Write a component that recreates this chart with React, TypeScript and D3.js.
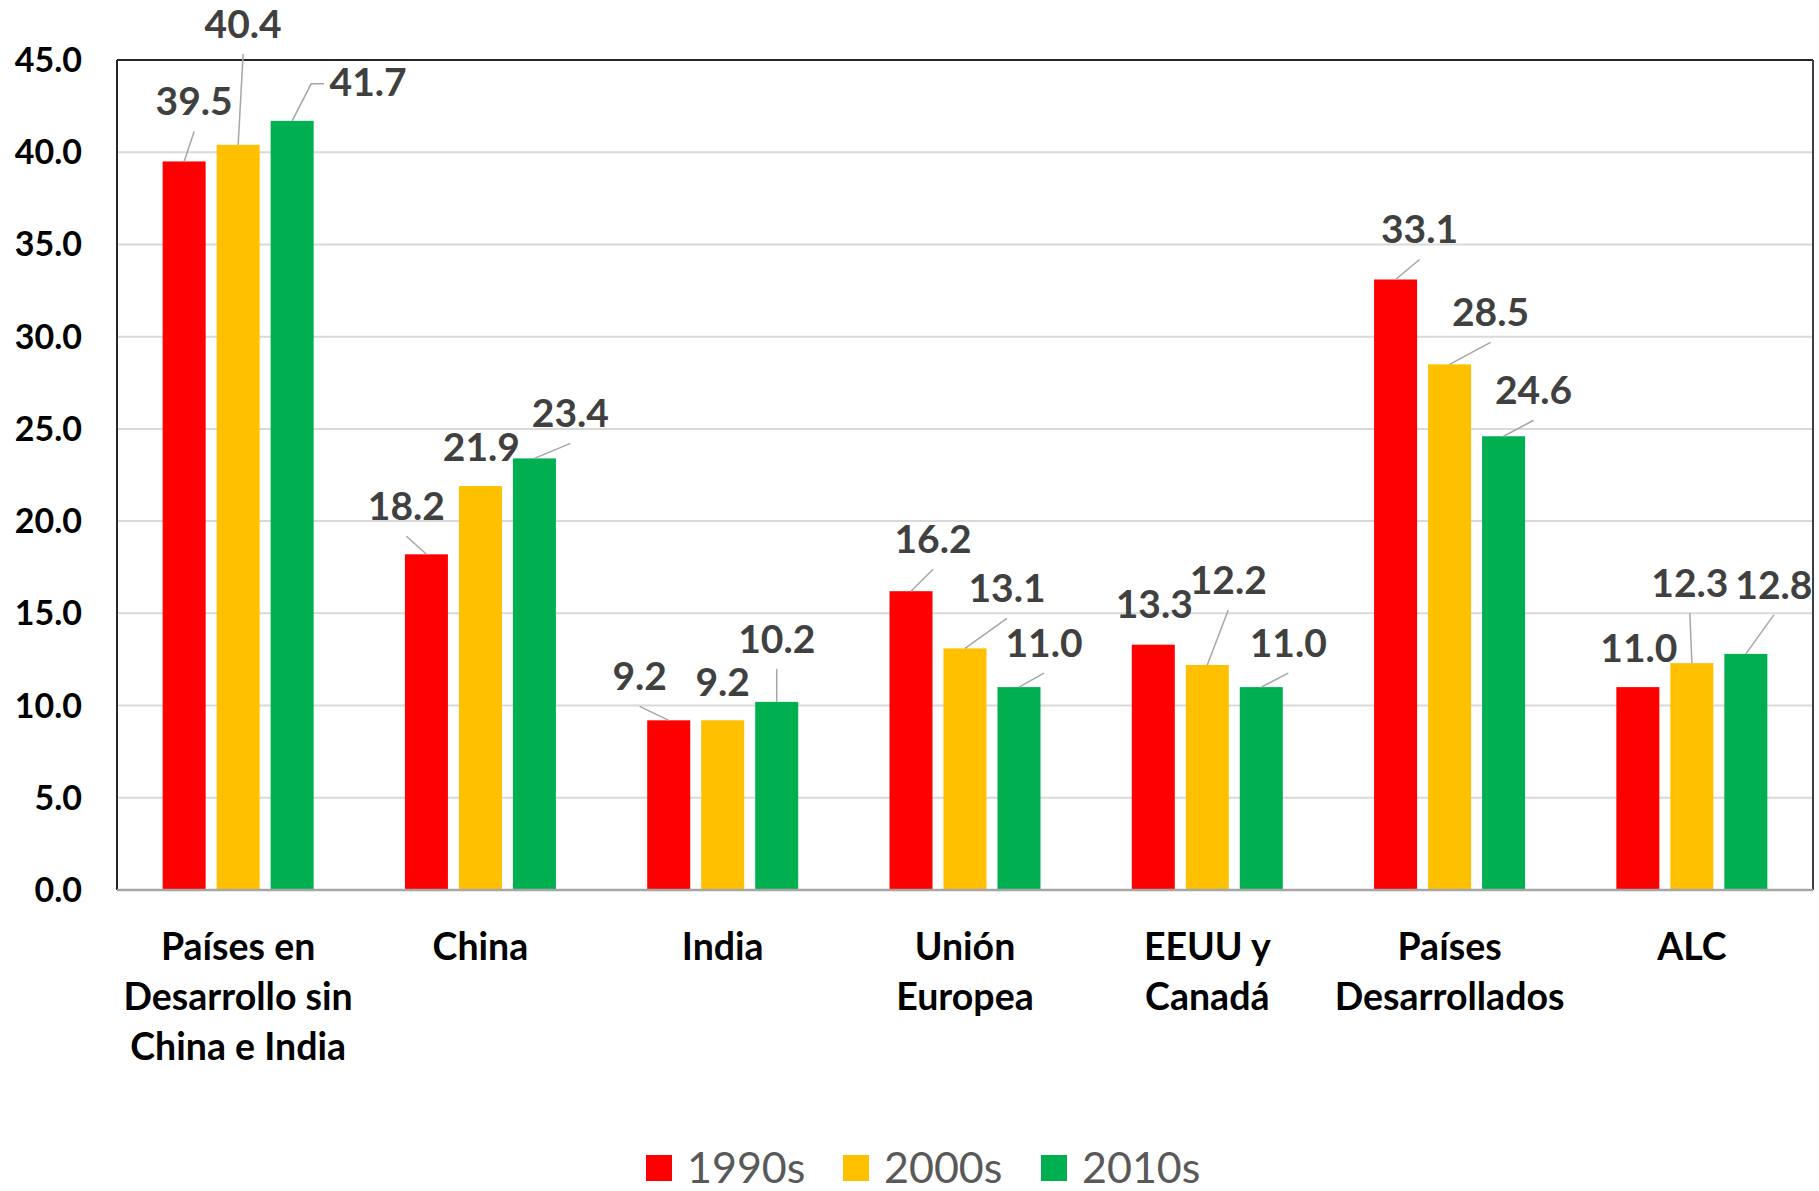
import React from "react";
import * as d3 from "d3";

// ---------- data ----------
const categories = [
  "Países en\nDesarrollo sin\nChina e India",
  "China",
  "India",
  "Unión\nEuropea",
  "EEUU y\nCanadá",
  "Países\nDesarrollados",
  "ALC",
];
const seriesNames = ["1990s", "2000s", "2010s"];
const values1990s = [39.5, 18.2, 9.2, 16.2, 13.3, 33.1, 11.0];
const values2000s = [40.4, 21.9, 9.2, 13.1, 12.2, 28.5, 12.3];
const values2010s = [41.7, 23.4, 10.2, 11.0, 11.0, 24.6, 12.8];
const yTicks = [0, 5, 10, 15, 20, 25, 30, 35, 40, 45];

// ---------- layout / style ----------
const W = 1819;
const H = 1191;
const PLOT = { left: 117, right: 1813, top: 60, bottom: 890 };
const COLORS = ["#FF0000", "#FFC000", "#00B050"];
const FONT = "Lato, 'Open Sans', sans-serif";
// label offsets (px) from bar-top center to label center / baseline
const LABEL_OFFSETS = [
  [[10, -46], [-20, -34], [-29, -30], [22, -38], [1, -27], [24, -36], [1, -25]],
  [[5, -107], [1, -25], [0, -24], [42, -46], [21, -71], [41, -38], [-2, -66]],
  [[76, -25], [36, -31], [0, -49], [25, -30], [27, -30], [30, -32], [28, -55]],
];

export default function App() {
  const seriesValues = [values1990s, values2000s, values2010s];

  const x0 = d3
    .scaleBand<string>()
    .domain(categories)
    .range([PLOT.left, PLOT.right])
    .paddingInner(0)
    .paddingOuter(0);
  const x1 = d3
    .scaleBand<string>()
    .domain(seriesNames)
    .range([-75.5, 75.5])
    .paddingInner(0.2037)
    .paddingOuter(0);
  const y = d3.scaleLinear().domain([0, 45]).range([PLOT.bottom, PLOT.top]);

  const labelFont = 39;
  const labelHalfW = 39;

  const bars: React.ReactNode[] = [];
  const labels: React.ReactNode[] = [];
  seriesNames.forEach((s, si) => {
    seriesValues[si].forEach((v, ci) => {
      const cx = (x0(categories[ci]) as number) + x0.bandwidth() / 2;
      const bx = cx + (x1(s) as number);
      const bw = x1.bandwidth();
      const top = y(v);
      bars.push(
        <rect
          key={`b-${si}-${ci}`}
          x={bx}
          y={top}
          width={bw}
          height={y(0) - top}
          fill={COLORS[si]}
        />
      );
      const [dx, dy] = LABEL_OFFSETS[si][ci];
      const bcx = bx + bw / 2;
      const lx = bcx + dx;
      const ly = top + dy;
      const sideways = Math.abs(dx) > labelHalfW + 10;
      if (dy < -28 || sideways) {
        let path: string;
        if (sideways) {
          const sign = dx > 0 ? 1 : -1;
          const ex = lx - sign * (labelHalfW + 5);
          const ey = ly - 12;
          path = `M${bcx},${top} L${ex - sign * 13},${ey} L${ex},${ey}`;
        } else {
          path = `M${bcx},${top} L${lx},${ly + 16}`;
        }
        labels.push(
          <path
            key={`l-${si}-${ci}`}
            d={path}
            fill="none"
            stroke="#A6A6A6"
            strokeWidth={1.5}
          />
        );
      }
      labels.push(
        <text
          key={`t-${si}-${ci}`}
          x={lx}
          y={ly}
          textAnchor="middle"
          fontFamily={FONT}
          fontWeight={700}
          fontSize={labelFont}
          fill="#404040"
        >
          {d3.format(".1f")(v)}
        </text>
      );
    });
  });

  const legendX = [646, 843, 1041];

  return (
    <svg
      width={W}
      height={H}
      style={{ position: "absolute", left: 0, top: 0, background: "#fff" }}
    >
      <rect x={0} y={0} width={W} height={H} fill="#fff" />
      {/* gridlines */}
      {yTicks.map((t) => (
        <line
          key={`g-${t}`}
          x1={PLOT.left}
          x2={PLOT.right}
          y1={y(t)}
          y2={y(t)}
          stroke="#D9D9D9"
          strokeWidth={2}
        />
      ))}
      {/* y tick labels */}
      {yTicks.map((t) => (
        <text
          key={`yt-${t}`}
          x={82}
          y={y(t) + 12}
          textAnchor="end"
          fontFamily={FONT}
          fontWeight={700}
          fontSize={34}
          fill="#000"
        >
          {d3.format(".1f")(t)}
        </text>
      ))}
      {bars}
      {/* frame */}
      <line x1={PLOT.left} x2={PLOT.right} y1={PLOT.top} y2={PLOT.top} stroke="#262626" strokeWidth={2} />
      <line x1={PLOT.left} x2={PLOT.left} y1={PLOT.top} y2={PLOT.bottom} stroke="#262626" strokeWidth={2} />
      <line x1={PLOT.right} x2={PLOT.right} y1={PLOT.top} y2={PLOT.bottom} stroke="#404040" strokeWidth={2} />
      <line x1={PLOT.left} x2={PLOT.right} y1={PLOT.bottom} y2={PLOT.bottom} stroke="#A6A6A6" strokeWidth={2.5} />
      {labels}
      {/* category labels */}
      {categories.map((c) => {
        const cx = (x0(c) as number) + x0.bandwidth() / 2;
        return (
          <text
            key={`c-${c}`}
            x={cx}
            y={960}
            textAnchor="middle"
            fontFamily={FONT}
            fontWeight={700}
            fontSize={37.5}
            fill="#000"
          >
            {c.split("\n").map((line, i) => (
              <tspan key={i} x={cx} dy={i === 0 ? 0 : 50}>
                {line}
              </tspan>
            ))}
          </text>
        );
      })}
      {/* legend */}
      {seriesNames.map((s, i) => (
        <g key={`lg-${s}`}>
          <rect x={legendX[i]} y={1155} width={26} height={26} fill={COLORS[i]} />
          <text
            x={legendX[i] + 41}
            y={1183}
            fontFamily={FONT}
            fontSize={43}
            fill="#595959"
          >
            {s}
          </text>
        </g>
      ))}
    </svg>
  );
}
